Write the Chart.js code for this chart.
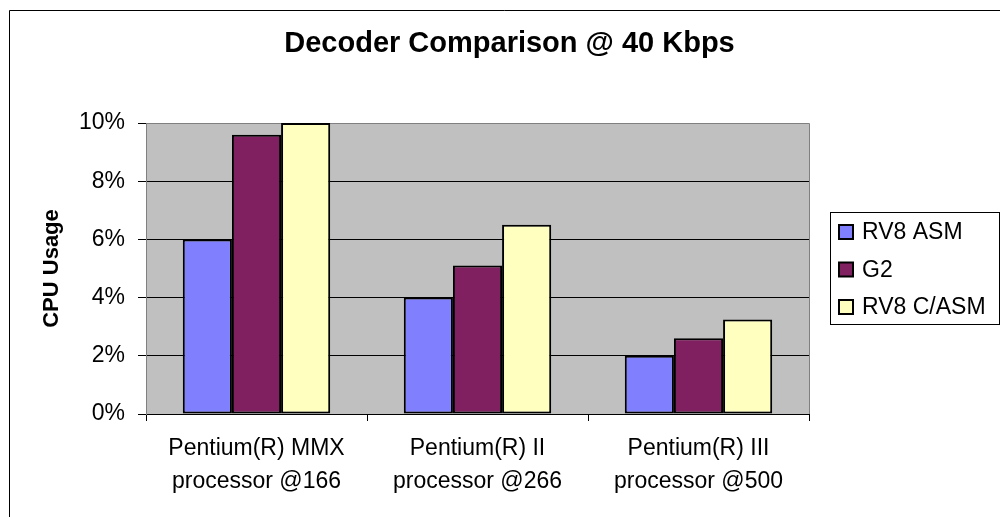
<!DOCTYPE html>
<html lang="en">

<head>
    <meta charset="utf-8" />
    <title>Decoder Comparison @ 40 Kbps</title>
    <script src="https://cdn.jsdelivr.net/npm/chart.js"></script>
    <style>
        html, body { margin: 0; padding: 0; background: #fff; }
        #chartBox { width: 1000px; height: 517px; }
    </style>
</head>

<body>
    <div id="chartBox">
        <canvas id="decoderChart" width="1000" height="517"></canvas>
    </div>

    <script>
        const categories = [
            ['Pentium(R) MMX', 'processor @166'],
            ['Pentium(R) II', 'processor @266'],
            ['Pentium(R) III', 'processor @500']
        ];
        const seriesNames = ['RV8 ASM', 'G2', 'RV8 C/ASM'];
        const rv8Asm = [6, 4, 2];
        const g2 = [9.6, 5.1, 2.6];
        const rv8CAsm = [10, 6.5, 3.25];
        const yTickLabels = ['0%', '2%', '4%', '6%', '8%', '10%'];

        const fontName = 'Liberation Sans';

        // gray plot area + frame round the slide
        const backdrop = {
            id: 'backdrop',
            beforeDraw(chart) {
                const { ctx, chartArea } = chart;
                ctx.save();
                ctx.fillStyle = '#fff';
                ctx.fillRect(0, 0, chart.width, chart.height);
                ctx.fillStyle = '#c0c0c0';
                ctx.fillRect(chartArea.left, chartArea.top, chartArea.right - chartArea.left, chartArea.bottom - chartArea.top);
                ctx.strokeStyle = '#000';
                ctx.lineWidth = 1;
                ctx.beginPath();
                ctx.moveTo(9.5, chart.height);
                ctx.lineTo(9.5, 10.5);
                ctx.lineTo(chart.width, 10.5);
                ctx.stroke();
                ctx.restore();
            },
            beforeDatasetsDraw(chart) {
                const { ctx, chartArea } = chart;
                ctx.save();
                ctx.strokeStyle = '#808080';
                ctx.lineWidth = 1;
                ctx.beginPath();
                ctx.moveTo(chartArea.left, Math.round(chartArea.top) + 0.5);
                ctx.lineTo(Math.round(chartArea.right) + 0.5, Math.round(chartArea.top) + 0.5);
                ctx.lineTo(Math.round(chartArea.right) + 0.5, chartArea.bottom);
                ctx.stroke();
                ctx.restore();
            }
        };

        // boxed legend on the right
        const boxLegend = {
            id: 'boxLegend',
            afterDraw(chart) {
                const ctx = chart.ctx;
                const x = 830, y = 212, w = 169, h = 112;
                ctx.save();
                ctx.strokeStyle = '#000';
                ctx.lineWidth = 1;
                ctx.strokeRect(x + 0.5, y + 0.5, w, h);
                ctx.font = '23px "' + fontName + '"';
                ctx.textBaseline = 'middle';
                chart.data.datasets.forEach((ds, i) => {
                    const cy = y + 20 + i * 37.5;
                    ctx.fillStyle = ds.backgroundColor;
                    ctx.fillRect(839, cy - 7, 14, 14);
                    ctx.lineWidth = 2;
                    ctx.strokeRect(839, cy - 7, 14, 14);
                    ctx.fillStyle = '#000';
                    ctx.fillText(ds.label, 862, cy + 1);
                });
                ctx.restore();
            }
        };

        function makeDataset(label, data, color) {
            return {
                label: label,
                data: data,
                backgroundColor: color,
                borderColor: '#000',
                borderWidth: 2,
                borderSkipped: false,
                categoryPercentage: 0.667,
                barPercentage: 1.0
            };
        }

        new Chart(document.getElementById('decoderChart'), {
            type: 'bar',
            data: {
                labels: categories,
                datasets: [
                    makeDataset(seriesNames[0], rv8Asm, '#8080ff'),
                    makeDataset(seriesNames[1], g2, '#802060'),
                    makeDataset(seriesNames[2], rv8CAsm, '#ffffc0')
                ]
            },
            options: {
                responsive: false,
                animation: false,
                devicePixelRatio: 1,
                layout: { padding: { left: 19, right: 0, top: 0, bottom: 0 } },
                plugins: {
                    legend: { display: false },
                    tooltip: { enabled: false },
                    title: {
                        display: true,
                        text: 'Decoder Comparison @ 40 Kbps',
                        color: '#000',
                        font: { family: fontName, size: 29, weight: 'bold', lineHeight: 1.2 },
                        padding: { top: 27, bottom: 61.2 }
                    }
                },
                scales: {
                    x: {
                        grid: {
                            display: true,
                            drawOnChartArea: false,
                            drawTicks: true,
                            tickLength: 7,
                            color: '#000',
                            offset: true
                        },
                        border: { color: '#000', width: 1 },
                        ticks: {
                            color: '#000',
                            font: { family: fontName, size: 23, lineHeight: 1.4 },
                            padding: 12,
                            maxRotation: 0,
                            autoSkip: false
                        },
                        afterFit(scale) { scale.height = 103; }
                    },
                    y: {
                        min: 0,
                        max: 10,
                        grid: {
                            color: ctx => ctx.tick && ctx.tick.value === 10 ? '#808080' : '#000',
                            tickColor: '#000',
                            tickLength: 8
                        },
                        border: { color: '#808080', width: 1 },
                        ticks: {
                            stepSize: 2,
                            color: '#000',
                            padding: 13,
                            font: { family: fontName, size: 23 },
                            callback: (value, index) => yTickLabels[index]
                        },
                        title: {
                            display: true,
                            text: 'CPU Usage',
                            color: '#000',
                            font: { family: fontName, size: 22, weight: 'bold', lineHeight: 1.2 },
                            padding: { top: 20, bottom: 0 }
                        },
                        afterFit(scale) { scale.width = 127; }
                    },
                    // spacer on the right so the plot ends where the legend begins
                    spacer: {
                        type: 'linear',
                        position: 'right',
                        display: true,
                        grid: { display: false },
                        border: { display: false },
                        ticks: { display: false },
                        afterFit(scale) { scale.width = 191; }
                    }
                }
            },
            plugins: [backdrop, boxLegend]
        });
    </script>
</body>

</html>
